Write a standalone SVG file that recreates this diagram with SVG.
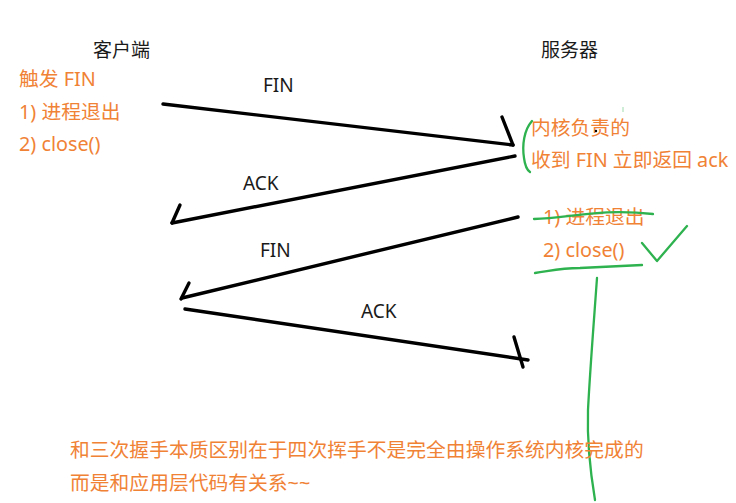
<svg xmlns="http://www.w3.org/2000/svg" width="736" height="503" viewBox="0 0 736 503">
<style>
text{font-family:"Noto Sans","Noto Sans CJK SC",sans-serif;font-size:19px}
.hd{fill:#1a1a1a}
.lbl{fill:#1a1a1a}
.or{fill:#F08236;font-size:19.8px}
.blk{fill:none;stroke:#000;stroke-width:3.4;stroke-linecap:round;stroke-linejoin:round}
.grn{fill:none;stroke:#2EB24F;stroke-width:2.3;stroke-linecap:round;stroke-linejoin:round}
</style>
<rect width="736" height="503" fill="#fff"/>
<g id="client">
<text class="hd" x="93" y="57">客户端</text>
<text class="or" x="19" y="86">触发 FIN</text>
<text class="or" x="19" y="119">1) 进程退出</text>
<text class="or" x="19" y="151">2) close()</text>
</g>
<g id="server">
<text class="hd" x="541" y="57">服务器</text>
<text class="or" x="531" y="135">内核负责的</text>
<text class="or" x="531" y="167">收到 FIN 立即返回 ack</text>
<text class="or" x="543" y="224">1) 进程退出</text>
<text class="or" x="543" y="257">2) close()</text>
<path class="grn" d="M532,121 C524,130 522,145 524,158 C525,166 527,170 530,172"/>
<path class="grn" d="M534,219 C570,218 600,208 653,214"/>
<path class="grn" d="M535,273 C550,271 560,268 580,268 C600,267 620,266 642,265"/>
<path class="grn" d="M642,243 L657,261 L687,226"/>
<path class="grn" d="M597,278 C594,320 590,370 588,410 C587,440 590,470 595,500"/>
<line x1="623" y1="107" x2="623" y2="112" stroke="#9fdcae" stroke-width="1"/>
<circle cx="596" cy="131" r="1.2" fill="#000"/>
</g>
<g id="connectors">
<polyline class="blk" points="163,104 513,145"/>
<polyline class="blk" points="502,117 513,145"/>
<polyline class="blk" points="515,156 172,223"/>
<polyline class="blk" points="180,205 172,223"/>
<polyline class="blk" points="518,217 182,298"/>
<polyline class="blk" points="189,283 181,299"/>
<polyline class="blk" points="185,309 528,360"/>
<polyline class="blk" points="514,337 523,367"/>
<text class="lbl" x="263" y="92">FIN</text>
<text class="lbl" x="243" y="190">ACK</text>
<text class="lbl" x="260" y="257">FIN</text>
<text class="lbl" x="361" y="318">ACK</text>
</g>
<g id="note">
<text class="or" x="70" y="457">和三次握手本质区别在于四次挥手不是完全由操作系统内核完成的</text>
<text class="or" x="70" y="490">而是和应用层代码有关系~~</text>
</g>
</svg>
